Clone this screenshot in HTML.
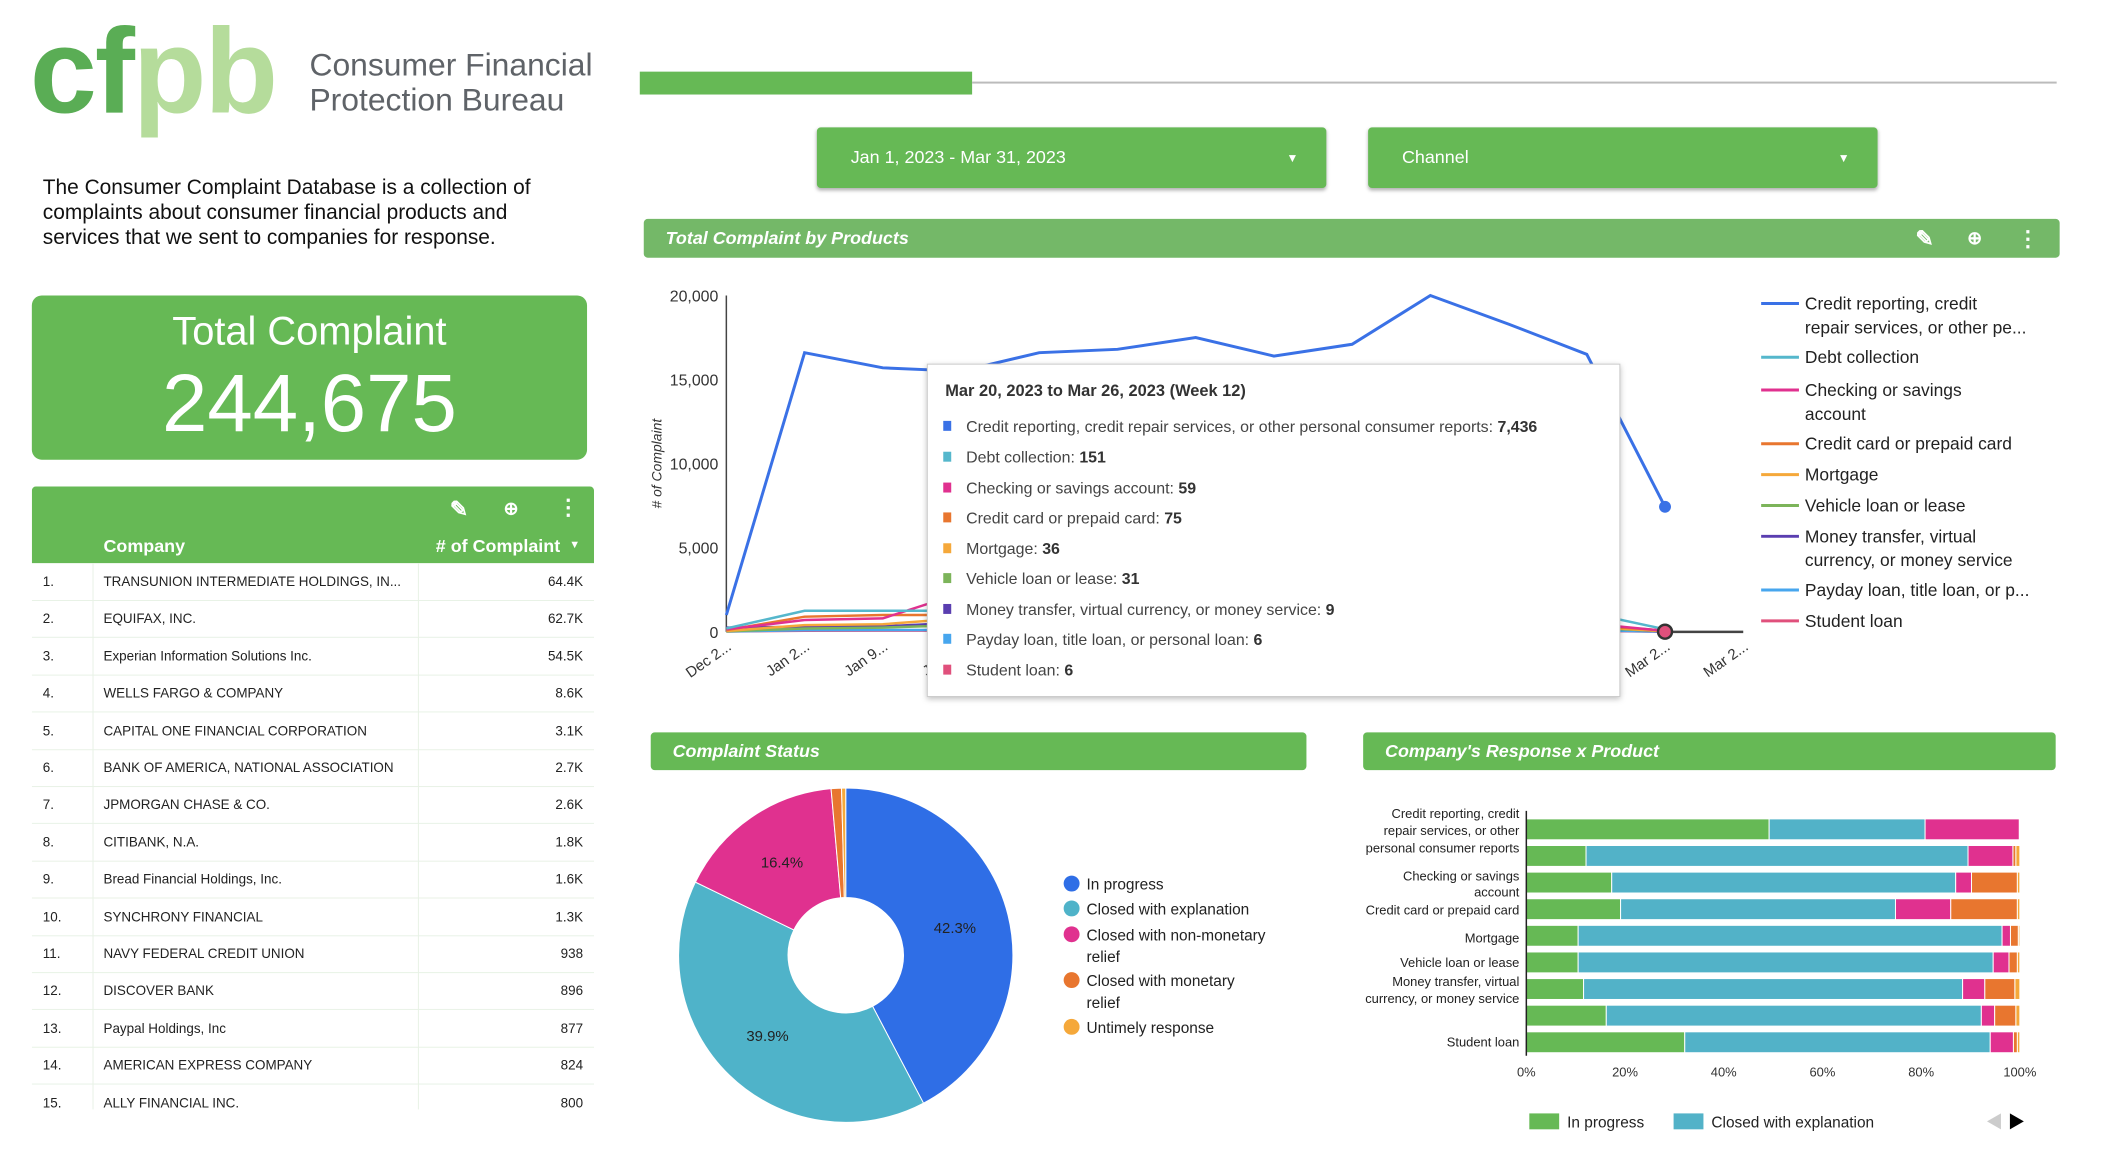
<!DOCTYPE html>
<html><head><meta charset="utf-8">
<style>
body{margin:0;width:2108px;height:1174px;background:#fff;font-family:"Liberation Sans",sans-serif;position:relative;overflow:hidden}
#w{position:absolute;left:0;top:0;width:2108px;height:1174px;transform:scale(0.995);transform-origin:0 0}
.a{position:absolute}
.hdr{position:absolute;background:#66b955;border-radius:4px;color:#fff;font-weight:bold;font-style:italic;font-size:18px;box-sizing:border-box;padding-left:22px;display:flex;align-items:center}
.dd{position:absolute;background:#66b955;border-radius:4px;color:#fff;font-size:18px;box-shadow:0 2px 4px rgba(0,0,0,.3);display:flex;align-items:center;box-sizing:border-box}
.row{position:absolute;left:32px;width:565px;height:37px;border-bottom:1px solid #e8f2e6;font-size:13.5px;color:#222}
.row span{position:absolute;top:11px}
svg text{font-family:"Liberation Sans",sans-serif}
</style></head><body>
<div id="w">
<div class="a" style="left:30px;top:-4px;font-size:121px;font-weight:bold;letter-spacing:-2px;line-height:150px"><span style="color:#5aad55">cf</span><span style="color:#b5dc9b">pb</span></div>
<div class="a" style="left:311px;top:48px;font-size:32px;line-height:35px;color:#5f6368">Consumer Financial<br>Protection Bureau</div>
<div class="a" style="left:643px;top:72px;width:334px;height:23px;background:#66b955"></div>
<div class="a" style="left:977px;top:82px;width:1090px;height:2px;background:#bbb"></div>
<div class="dd" style="left:821px;top:128px;width:512px;height:61px;padding-left:34px">Jan 1, 2023 - Mar 31, 2023<span style="position:absolute;left:472px;font-size:12px">▼</span></div>
<div class="dd" style="left:1375px;top:128px;width:512px;height:61px;padding-left:34px">Channel<span style="position:absolute;left:472px;font-size:12px">▼</span></div>
<div class="a" style="left:43px;top:176px;font-size:21px;line-height:25px;color:#111">The Consumer Complaint Database is a collection of<br>complaints about consumer financial products and<br>services that we sent to companies for response.</div>
<div class="a" style="left:32px;top:297px;width:558px;height:165px;background:#66b955;border-radius:10px;color:#fff;text-align:center">
<div style="position:absolute;top:14px;width:100%;font-size:40px">Total Complaint</div>
<div style="position:absolute;top:62px;width:100%;font-size:82px">244,675</div></div>

<div class="a" style="left:32px;top:489px;width:565px;height:626px;overflow:hidden">
<div style="position:absolute;left:0;top:0;width:565px;height:77px;background:#66b955;border-radius:4px 4px 0 0;color:#fff;font-weight:bold;font-size:18px">
<span style="position:absolute;left:420px;top:10px;font-size:22px">✎</span>
<span style="position:absolute;left:474px;top:12px;font-size:18px">⊕</span>
<span style="position:absolute;left:528px;top:8px;font-size:22px">⋮</span>
<span style="position:absolute;left:72px;top:50px">Company</span>
<span style="position:absolute;right:34px;top:50px"># of Complaint</span>
<span style="position:absolute;right:14px;top:53px;font-size:11px">▼</span></div>
<div id="rows"></div>
<div style="position:absolute;left:61px;top:77px;width:1px;height:560px;background:#e8f2e6"></div>
<div style="position:absolute;left:388px;top:77px;width:1px;height:560px;background:#e8f2e6"></div>
</div>

<div class="hdr" style="left:647px;top:220px;width:1423px;height:39px;background:#74b868">Total Complaint by Products
<span style="position:absolute;left:1278px;font-size:22px;font-style:normal">✎</span>
<span style="position:absolute;left:1330px;font-size:18px;font-style:normal">⊕</span>
<span style="position:absolute;left:1380px;font-size:22px;font-style:normal">⋮</span></div>
<div class="hdr" style="left:654px;top:736px;width:659px;height:38px">Complaint Status</div>
<div class="hdr" style="left:1370px;top:736px;width:696px;height:38px">Company's Response x Product</div>

<svg class="a" id="chart" style="left:0;top:0" width="2108" height="1174"></svg>
</div>

<script>
// ---------- table data ----------
const companies=["TRANSUNION INTERMEDIATE HOLDINGS, IN...","EQUIFAX, INC.","Experian Information Solutions Inc.","WELLS FARGO & COMPANY","CAPITAL ONE FINANCIAL CORPORATION","BANK OF AMERICA, NATIONAL ASSOCIATION","JPMORGAN CHASE & CO.","CITIBANK, N.A.","Bread Financial Holdings, Inc.","SYNCHRONY FINANCIAL","NAVY FEDERAL CREDIT UNION","DISCOVER BANK","Paypal Holdings, Inc","AMERICAN EXPRESS COMPANY","ALLY FINANCIAL INC."];
const companyCounts=["64.4K","62.7K","54.5K","8.6K","3.1K","2.7K","2.6K","1.8K","1.6K","1.3K","938","896","877","824","800"];

// ---------- line chart data ----------
const weekLabels=["Dec 2...","Jan 2...","Jan 9...","Jan 1...","Jan 2...","Jan 3...","Feb 6...","Feb 1...","Feb 2...","Feb 2...","Mar 6...","Mar 1...","Mar 2...","Mar 2..."];
const yTicks=[0,5000,10000,15000,20000];
const products=["Credit reporting, credit repair services, or other personal consumer reports","Debt collection","Checking or savings account","Credit card or prepaid card","Mortgage","Vehicle loan or lease","Money transfer, virtual currency, or money service","Payday loan, title loan, or personal loan","Student loan"];
const productColors=["#3a71e6","#55b7cc","#e0318f","#e8762f","#f5a83a","#7cb45a","#5a3eb0","#47a6ee","#e0507c"];
const sCredit=[1000,16600,15700,15500,16600,16800,17500,16400,17100,20000,18300,16500,7436];
const sDebt=[200,1250,1250,1250,1250,1200,1200,1200,1200,1200,1200,1150,151];
const sChecking=[150,700,800,2300,1000,900,900,850,850,850,800,500,59];
const sCard=[100,900,1000,1000,950,950,900,900,900,900,850,400,75];
const sMortgage=[50,400,450,800,450,450,450,400,400,400,400,300,36];
const sVehicle=[30,200,250,400,250,250,250,250,250,250,250,250,31];
const sMoney=[250,300,320,550,330,330,330,330,320,320,320,300,9];
const sPayday=[20,100,110,110,110,110,110,110,110,110,110,100,6];
const sStudent=[20,60,70,70,70,70,70,70,70,70,70,60,6];
const allSeries=[sCredit,sDebt,sChecking,sCard,sMortgage,sVehicle,sMoney,sPayday,sStudent];
const tipValues=["7,436","151","59","75","36","31","9","6","6"];
const legendLines=[["Credit reporting, credit","repair services, or other pe..."],["Debt collection"],["Checking or savings","account"],["Credit card or prepaid card"],["Mortgage"],["Vehicle loan or lease"],["Money transfer, virtual","currency, or money service"],["Payday loan, title loan, or p..."],["Student loan"]];

// ---------- pie data ----------
const statusLabels=[["In progress"],["Closed with explanation"],["Closed with non-monetary","relief"],["Closed with monetary","relief"],["Untimely response"]];
const statusValues=[42.3,39.9,16.4,1.0,0.4];
const statusColors=["#2f6ee6","#4fb3c9","#e0318f","#e8762f","#f5a83a"];

// ---------- stacked bar data ----------
const barInProgress=[49.2,12.1,17.3,19.1,10.5,10.5,11.6,16.2,32.1];
const barExplanation=[31.6,77.4,69.7,55.7,85.9,84.1,76.8,76.0,61.9];
const barNonMonetary=[19.1,9.1,3.2,11.2,1.7,3.2,4.5,2.7,4.7];
const barMonetary=[0.05,0.6,9.3,13.5,1.6,1.7,6.1,4.3,0.8];
const barUntimely=[0.05,0.8,0.5,0.5,0.3,0.5,1.0,0.8,0.5];
const barTicks=[0,20,40,60,80,100];

const NS="http://www.w3.org/2000/svg";
const svg=document.getElementById('chart');
function mk(tag,attrs,parent){const e=document.createElementNS(NS,tag);for(const k in attrs)e.setAttribute(k,attrs[k]);(parent||svg).appendChild(e);return e;}
function txt(x,y,s,attrs){const t=mk('text',Object.assign({x:x,y:y},attrs||{}));t.textContent=s;return t;}

// table rows
const rowsEl=document.getElementById('rows');
companies.forEach((c,i)=>{
  const r=document.createElement('div');r.className='row';r.style.left='0';r.style.top=(77+i*37.4)+'px';
  
  
  r.innerHTML='<span style="left:11px">'+(i+1)+'.</span><span style="left:72px">'+c.replace('&','&amp;')+'</span><span style="right:11px">'+companyCounts[i]+'</span>';
  rowsEl.appendChild(r);
});

// line chart
const X0=730,STEP=(1752-730)/13,Y0=635,YH=338;
const lx=i=>X0+i*STEP, ly=v=>Y0-v/20000*YH;
yTicks.forEach(v=>{const t=txt(722,ly(v)+6,v.toLocaleString('en-US'),{'text-anchor':'end','font-size':16,fill:'#333'});

});
const ax=mk('line',{x1:X0,y1:297,x2:X0,y2:Y0,stroke:'#444','stroke-width':1.5});


const yt=txt(0,0,'# of Complaint',{transform:'translate(665,'+466+') rotate(-90)','text-anchor':'middle','font-size':14,'font-style':'italic',fill:'#333'});


weekLabels.forEach((l,i)=>{const t=txt(0,0,l,{transform:'translate('+(lx(i)+6)+',652) rotate(-35)','text-anchor':'end','font-size':15,fill:'#333'});

});
for(let k=allSeries.length-1;k>=0;k--){
  const s=allSeries[k];
  const p=mk('polyline',{points:s.map((v,i)=>lx(i)+','+ly(v)).join(' '),fill:'none',stroke:productColors[k],'stroke-width':k==0?3:2.5});
  
  
}
const last=sCredit.length-1;
const bl=mk('line',{x1:lx(last),y1:ly(0),x2:lx(last+1),y2:ly(0),stroke:'#444','stroke-width':2.5});


const dot=mk('circle',{cx:lx(last),cy:ly(sCredit[last]),r:6,fill:'#3a71e6'});


const dot2=mk('circle',{cx:lx(last),cy:ly(sStudent[last]),r:7,fill:'#e0507c',stroke:'#333','stroke-width':2.5});


// legend
let ly0=[305,359,392,446,477,508,539,593,624];
legendLines.forEach((ls,k)=>{
  const g=mk('g',{});
  
  
  mk('line',{x1:1770,y1:ly0[k],x2:1808,y2:ly0[k],stroke:productColors[k],'stroke-width':3},g);
  ls.forEach((s,j)=>{const t=mk('text',{x:1814,y:ly0[k]+6+j*24,'font-size':17.5,fill:'#222'},g);t.textContent=s;});
});
// tooltip
const tg=mk('g',{});


mk('rect',{x:932,y:366,width:696,height:334,fill:'#fff',stroke:'#ccc','stroke-width':1,style:'filter:drop-shadow(0 2px 3px rgba(0,0,0,.25))'},tg);
const tt=mk('text',{x:950,y:398,'font-size':16.5,'font-weight':'bold',fill:'#333'},tg);tt.textContent='Mar 20, 2023 to Mar 26, 2023 (Week 12)';
const tipY=[428,459,490,520,551,581,612,642,673];
products.forEach((p,k)=>{
  mk('rect',{x:948,y:tipY[k]-5,width:8,height:10,fill:productColors[k]},tg);
  const t=mk('text',{x:971,y:tipY[k]+6,'font-size':16,fill:'#444'},tg);
  t.textContent=p+': ';
  const b=mk('tspan',{'font-weight':'bold',fill:'#333'},t);b.textContent=tipValues[k];
});

// pie
const CX=850,CY=960,RO=168,RI=58;
const tot=statusValues.reduce((a,b)=>a+b,0);
let ang=0;
statusValues.forEach((v,i)=>{
  const a0=ang,a1=ang+v/tot*2*Math.PI;ang=a1;
  const pt=(r,a)=>[CX+r*Math.sin(a),CY-r*Math.cos(a)];
  const large=(a1-a0)>Math.PI?1:0;
  const [x0,y0]=pt(RO,a0),[x1,y1]=pt(RO,a1),[x2,y2]=pt(RI,a1),[x3,y3]=pt(RI,a0);
  const s=mk('path',{d:`M${x0},${y0}A${RO},${RO} 0 ${large} 1 ${x1},${y1}L${x2},${y2}A${RI},${RI} 0 ${large} 0 ${x3},${y3}Z`,fill:statusColors[i],stroke:'#fff','stroke-width':1});
  
  
  if(v>5){const m=(a0+a1)/2;const [lxp,lyp]=pt(113,m);const t=txt(lxp,lyp+5,v.toFixed(1)+'%',{'text-anchor':'middle','font-size':15,fill:'#222'});
  
  }
});
const ply=[888,913,939,985,1032];
statusLabels.forEach((ls,i)=>{
  const g=mk('g',{});
  
  
  mk('circle',{cx:1077,cy:ply[i],r:8,fill:statusColors[i]},g);
  ls.forEach((s,j)=>{const t=mk('text',{x:1092,y:ply[i]+6+j*22,'font-size':15.5,fill:'#222'},g);t.textContent=s;});
});

// stacked bars
const BX0=1534,BX1=2030,BT=823,BP=26.75,BH=21;
const bx=p=>BX0+p/100*(BX1-BX0);
const stacks=[barInProgress,barExplanation,barNonMonetary,barMonetary,barUntimely];
const stackColors=["#66b955","#52b2c8","#e0318f","#e8762f","#f5a83a"];
barInProgress.forEach((_,r)=>{
  let acc=0;
  stacks.forEach((arr,k)=>{
    const v=arr[r];
    const b=mk('rect',{x:bx(acc),y:BT+r*BP,width:Math.max(0,bx(acc+v)-bx(acc)),height:BH,fill:stackColors[k],stroke:'#fff','stroke-width':1});
    
    
    acc+=v;
  });
});
const bax=mk('line',{x1:BX0,y1:BT-8,x2:BX0,y2:BT+8*BP+BH+3,stroke:'#222','stroke-width':1.5});


barTicks.forEach(p=>{const t=txt(bx(p),1082,p+'%',{'text-anchor':'middle','font-size':13,fill:'#333'});

});
const barLabels=[["Credit reporting, credit",817],["repair services, or other",834],["personal consumer reports",852],["Checking or savings",880],["account",896],["Credit card or prepaid card",914],["Mortgage",942],["Vehicle loan or lease",967],["Money transfer, virtual",986],["currency, or money service",1003],["Student loan",1047]];
barLabels.forEach(([s,y])=>{const t=txt(1527,y+5,s,{'text-anchor':'end','font-size':13,fill:'#222'});

});
// bar legend
const lg1=mk('g',{});


mk('rect',{x:1537,y:1119,width:30,height:16,fill:'#66b955'},lg1);
const l1=mk('text',{x:1575,y:1133,'font-size':15.5,fill:'#222'},lg1);l1.textContent='In progress';
const lg2=mk('g',{});


mk('rect',{x:1682,y:1119,width:30,height:16,fill:'#52b2c8'},lg2);
const l2=mk('text',{x:1720,y:1133,'font-size':15.5,fill:'#222'},lg2);l2.textContent='Closed with explanation';
const pa=mk('path',{d:'M2011,1119L1997,1127L2011,1135Z',fill:'#ccc'});


const na=mk('path',{d:'M2020,1119L2034,1127L2020,1135Z',fill:'#000'});


</script>
</body></html>
